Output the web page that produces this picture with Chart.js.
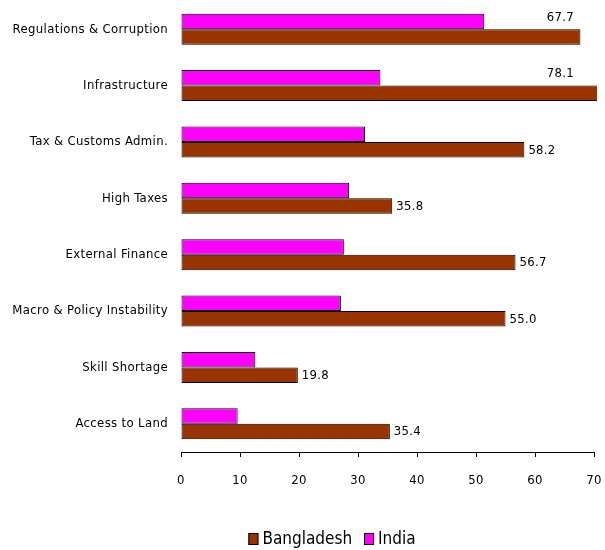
<!DOCTYPE html>
<html><head><meta charset="utf-8">
<script src="https://cdn.jsdelivr.net/npm/chart.js@4/dist/chart.umd.min.js"></script>
<style>html,body{margin:0;padding:0;background:#fff}canvas{display:block}</style>
</head><body>
<canvas id="c" width="605" height="550"></canvas>
<script>
const categories = ["Regulations & Corruption", "Infrastructure", "Tax & Customs Admin.", "High Taxes", "External Finance", "Macro & Policy Instability", "Skill Shortage", "Access to Land"];
const bangladesh = [67.7, 78.1, 58.2, 35.8, 56.7, 55.0, 19.8, 35.4];
const india = [51.4, 33.8, 31.2, 28.5, 27.6, 27.1, 12.6, 9.6];
const xTicks = [0, 10, 20, 30, 40, 50, 60, 70];
const seriesNames = ["Bangladesh", "India"];

const FONT = "'DejaVu Sans', sans-serif";
const STRETCH = 'condensed';
const BROWN = '#993300', MAGENTA = '#FF00FF';

const spacing = {
  id: 'spacing',
  beforeUpdate(chart) { chart.ctx.letterSpacing = '0.35px'; },
  beforeDraw(chart) { chart.ctx.letterSpacing = '0.35px'; }
};

const valueLabels = {
  id: 'valueLabels',
  afterDatasetsDraw(chart) {
    const ctx = chart.ctx, area = chart.chartArea;
    const bMeta = chart.getDatasetMeta(1), iMeta = chart.getDatasetMeta(0);
    ctx.save();
    ctx.font = STRETCH + ' 13px ' + FONT;
    ctx.letterSpacing = '0.3px';
    ctx.fillStyle = '#000';
    ctx.textBaseline = 'middle';
    bMeta.data.forEach((bar, i) => {
      const txt = bangladesh[i].toFixed(1);
      const w = ctx.measureText(txt).width;
      const end = Math.min(bar.x, area.right);
      if (end + 4 + w > chart.width - 2) {
        ctx.textAlign = 'right';
        ctx.fillText(txt, area.right - 20, iMeta.data[i].y - 4);
      } else {
        ctx.textAlign = 'left';
        ctx.fillText(txt, end + 4, bar.y + 0.5);
      }
    });
    ctx.restore();
  }
};

const customLegend = {
  id: 'customLegend',
  afterDraw(chart) {
    const ctx = chart.ctx;
    ctx.save();
    ctx.font = STRETCH + ' 17px ' + FONT;
    ctx.letterSpacing = '0px';
    const items = [{ name: seriesNames[0], color: BROWN }, { name: seriesNames[1], color: MAGENTA }];
    const boxW = 10, boxH = 12, gapText = 4, gapItem = 12;
    let total = 0;
    items.forEach((it, k) => { it.w = ctx.measureText(it.name).width; total += boxW + gapText + it.w + (k ? gapItem : 0); });
    let x = 332 - total / 2;
    const yMid = 539;
    ctx.textBaseline = 'middle';
    ctx.textAlign = 'left';
    items.forEach((it, k) => {
      if (k) x += gapItem;
      ctx.fillStyle = it.color;
      ctx.fillRect(x, yMid - boxH / 2, boxW, boxH);
      ctx.strokeStyle = '#000';
      ctx.lineWidth = 1;
      ctx.strokeRect(x + 0.5, yMid - boxH / 2 + 0.5, boxW - 1, boxH - 1);
      x += boxW + gapText;
      ctx.fillStyle = '#000';
      ctx.fillText(it.name, x, yMid + 1);
      x += it.w;
    });
    ctx.restore();
  }
};

new Chart(document.getElementById('c'), {
  type: 'bar',
  data: {
    labels: categories,
    datasets: [
      { label: seriesNames[1], data: india, backgroundColor: MAGENTA, borderColor: '#000', borderWidth: 1, borderSkipped: false,
        categoryPercentage: 0.55, barPercentage: 1, clip: { left: 2, top: 2, right: 3, bottom: 2 } },
      { label: seriesNames[0], data: bangladesh, backgroundColor: BROWN, borderColor: '#000', borderWidth: 1, borderSkipped: false,
        categoryPercentage: 0.55, barPercentage: 1, clip: { left: 2, top: 2, right: 3, bottom: 2 } }
    ]
  },
  options: {
    indexAxis: 'y',
    responsive: false,
    animation: false,
    devicePixelRatio: 1,
    layout: { padding: { top: 1, right: 11, left: 0, bottom: 0 } },
    plugins: { legend: { display: false }, tooltip: { enabled: false } },
    scales: {
      x: {
        type: 'linear', min: 0, max: 70,
        afterBuildTicks(s) { s.ticks = xTicks.map(v => ({ value: v })); },
        afterFit(s) { s.height = 98; s.paddingLeft = 0; s.paddingRight = 0; },
        grid: { display: true, drawOnChartArea: false, drawTicks: true, tickLength: 5, color: '#000' },
        border: { display: true, color: '#000', width: 1 },
        ticks: { padding: 16, color: '#000', font: { family: FONT, size: 13, weight: STRETCH }, maxRotation: 0 }
      },
      y: {
        type: 'category',
        afterFit(s) { s.width = 181; s.paddingTop = 0; s.paddingBottom = 0; },
        grid: { display: false, drawTicks: false },
        border: { display: false },
        ticks: { padding: 13, color: '#000', font: { family: FONT, size: 13, weight: STRETCH } }
      }
    }
  },
  plugins: [spacing, valueLabels, customLegend]
});
</script>
</body></html>
